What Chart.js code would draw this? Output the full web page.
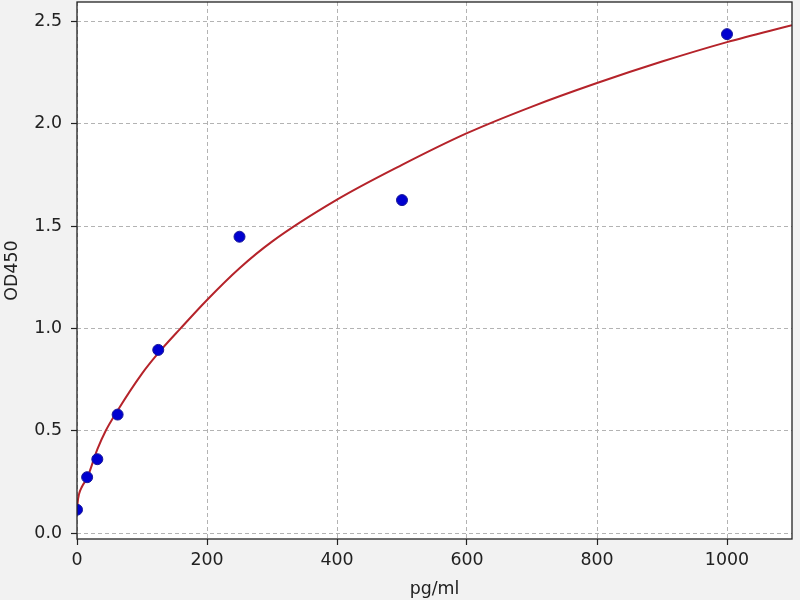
<!DOCTYPE html>
<html>
<head>
<meta charset="utf-8">
<script src="https://cdn.jsdelivr.net/npm/chart.js@4/dist/chart.umd.min.js"></script>
<style>
  html, body { margin: 0; padding: 0; background: #f2f2f2; }
</style>
</head>
<body>
<canvas id="stdCurve" width="800" height="600"></canvas>
<script>
(function () {
  "use strict";

  // standards (pg/ml) and measured OD450
  const concentrations = [0, 15.6, 31.25, 62.5, 125, 250, 500, 1000];
  const odValues = [0.115, 0.274, 0.362, 0.580, 0.896, 1.449, 1.628, 2.439];

  // fitted curve
  const curveX = [0, 1, 3, 8, 15.6, 31.25, 44, 62.5, 100, 125, 159, 200, 250, 300, 400, 500, 600, 700, 800, 900, 1000, 1100];
  const curveY = [0.10, 0.15, 0.19, 0.23, 0.27, 0.41, 0.50, 0.60, 0.78, 0.88, 1.00, 1.14, 1.295, 1.425, 1.63, 1.80, 1.955, 2.085, 2.20, 2.305, 2.40, 2.483];

  const xTicks = [0, 200, 400, 600, 800, 1000];
  const yTicks = [0.0, 0.5, 1.0, 1.5, 2.0, 2.5];

  const FONT = { family: "'DejaVu Sans', sans-serif", size: 17.4 };

  // grey figure, white axes, black box drawn on top
  const frame = {
    id: "frame",
    beforeDraw(chart) {
      const { ctx, chartArea: a } = chart;
      ctx.save();
      ctx.fillStyle = "#f2f2f2";
      ctx.fillRect(0, 0, chart.width, chart.height);
      ctx.fillStyle = "#ffffff";
      ctx.fillRect(a.left, a.top, a.right - a.left, a.bottom - a.top);
      ctx.restore();
    },
    afterDraw(chart) {
      const { ctx, chartArea: a } = chart;
      ctx.save();
      ctx.strokeStyle = "#222";
      ctx.lineWidth = 1.3;
      ctx.strokeRect(a.left, a.top, a.right - a.left, a.bottom - a.top);
      ctx.restore();
    }
  };

  function axisGrid() {
    return {
      color: "#b3b3b3",
      lineWidth: 1,
      drawTicks: true,
      tickLength: 6,
      tickColor: "#222",
      tickWidth: 1.2
    };
  }

  const curve = curveX.map((x, i) => ({ x, y: curveY[i] }));
  const points = concentrations.map((x, i) => ({ x, y: odValues[i] }));

  new Chart(document.getElementById("stdCurve"), {
    type: "scatter",
    data: {
      datasets: [
        {
          label: "fit",
          data: curve,
          showLine: true,
          borderColor: "#b5232a",
          borderWidth: 2,
          pointRadius: 0,
          cubicInterpolationMode: "monotone",
          order: 2,
          clip: 0
        },
        {
          label: "standards",
          data: points,
          backgroundColor: "#0000d0",
          borderColor: "#1a1a9a",
          borderWidth: 1,
          pointRadius: 5.5,
          order: 1,
          clip: 0
        }
      ]
    },
    options: {
      responsive: false,
      animation: false,
      layout: { autoPadding: false, padding: { top: 2, right: 8, left: 0, bottom: 0 } },
      plugins: { legend: { display: false }, tooltip: { enabled: false } },
      scales: {
        x: {
          type: "linear",
          min: 0,
          max: 1100,
          afterBuildTicks: axis => { axis.ticks = xTicks.map(v => ({ value: v })); },
          afterFit: axis => { axis.height = 61; axis.paddingLeft = 0; axis.paddingRight = 0; },
          grid: axisGrid(),
          border: { display: false, dash: [4, 3] },
          ticks: { color: "#222", font: FONT, padding: 5, maxRotation: 0, callback: v => String(v) },
          title: { display: true, text: "pg/ml", color: "#222", font: FONT, padding: { top: 0, bottom: 0 } }
        },
        y: {
          type: "linear",
          min: -0.028,
          max: 2.596,
          afterBuildTicks: axis => { axis.ticks = yTicks.map(v => ({ value: v })); },
          afterFit: axis => { axis.width = 77; axis.paddingTop = 0; axis.paddingBottom = 0; },
          grid: axisGrid(),
          border: { display: false, dash: [4, 3] },
          ticks: { color: "#222", font: FONT, padding: 9, callback: v => v.toFixed(1) },
          title: { display: true, text: "OD450", color: "#222", font: FONT, padding: { top: 2.5, bottom: 0 } }
        }
      }
    },
    plugins: [frame]
  });
})();
</script>
</body>
</html>
